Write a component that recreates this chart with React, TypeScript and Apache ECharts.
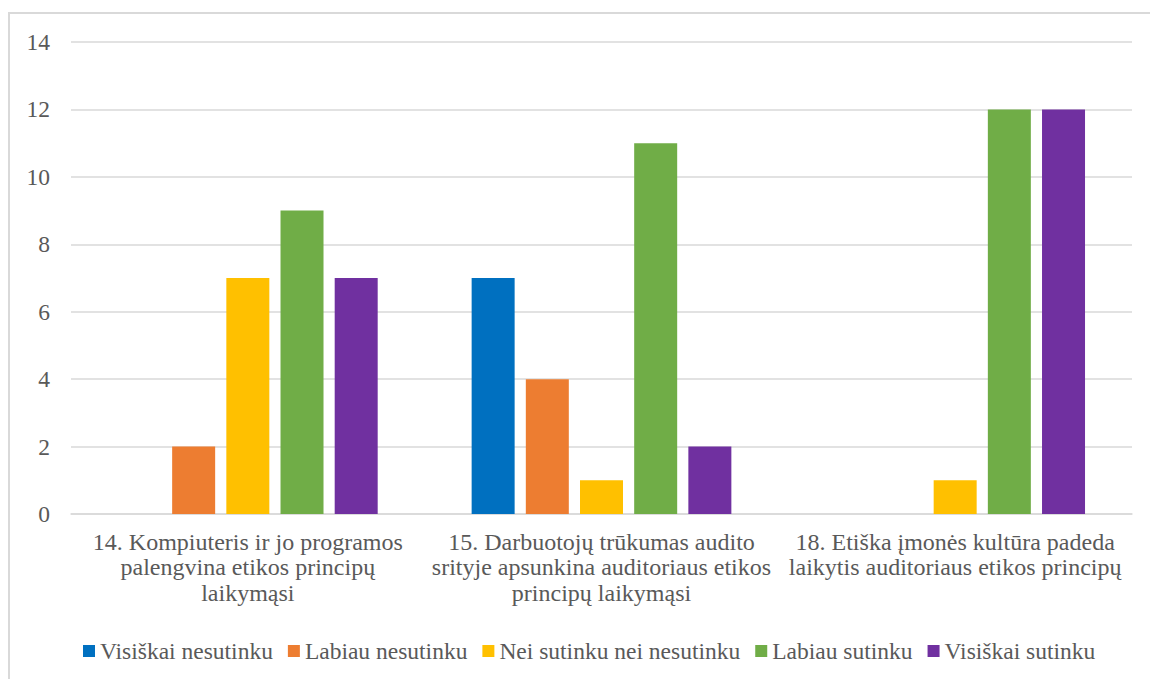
import React, { useEffect, useRef } from "react";
import * as echarts from "echarts";

const categories = [
  "14. Kompiuteris ir jo programos\npalengvina etikos principų\nlaikymąsi",
  "15. Darbuotojų trūkumas audito\nsrityje apsunkina auditoriaus etikos\nprincipų laikymąsi",
  "18. Etiška įmonės kultūra padeda\nlaikytis auditoriaus etikos principų",
];

const seriesNames = [
  "Visiškai nesutinku",
  "Labiau nesutinku",
  "Nei sutinku nei nesutinku",
  "Labiau sutinku",
  "Visiškai sutinku",
];

const visiskaiNesutinku = [0, 7, 0];
const labiauNesutinku = [2, 4, 0];
const neiSutinkuNeiNesutinku = [7, 1, 1];
const labiauSutinku = [9, 11, 12];
const visiskaiSutinku = [7, 2, 12];

const seriesValues = [
  visiskaiNesutinku,
  labiauNesutinku,
  neiSutinkuNeiNesutinku,
  labiauSutinku,
  visiskaiSutinku,
];

const colors = ["#0070C0", "#ED7D31", "#FFC000", "#70AD47", "#7030A0"];

const FONT = "Times New Roman, Liberation Serif, serif";
const TEXT = "#595959";
const GRID = "#d9d9d9";

export default function App() {
  const ref = useRef<HTMLDivElement>(null);
  useEffect(() => {
    if (!ref.current) return;
    const chart = echarts.init(ref.current, null, { renderer: "svg" });
    chart.setOption({
      animation: false,
      backgroundColor: "#ffffff",
      textStyle: { fontFamily: FONT, color: TEXT },
      graphic: [
        {
          type: "rect",
          shape: { x: 9, y: 13, width: 1200, height: 720 },
          style: { fill: "none", stroke: GRID, lineWidth: 2 },
          silent: true,
        },
      ],
      grid: { left: 71, right: 18, top: 42, bottom: 165, containLabel: false },
      legend: {
        left: 78,
        top: 634,
        itemWidth: 12,
        itemHeight: 12,
        itemGap: 15,
        icon: "rect",
        textStyle: { fontFamily: FONT, fontSize: 23.5, lineHeight: 24, color: TEXT },
        data: seriesNames,
      },
      xAxis: {
        type: "category",
        data: categories,
        axisLine: { show: true, lineStyle: { color: GRID, width: 1.5 } },
        axisTick: { show: false },
        axisLabel: {
          interval: 0,
          margin: 15,
          fontFamily: FONT,
          fontSize: 24,
          lineHeight: 25.5,
          color: TEXT,
          align: "center",
        },
      },
      yAxis: {
        type: "value",
        min: 0,
        max: 14,
        interval: 2,
        axisLine: { show: false },
        axisTick: { show: false },
        splitLine: { lineStyle: { color: GRID, width: 1.5 } },
        axisLabel: {
          margin: 21,
          fontFamily: FONT,
          fontSize: 23.5,
          color: TEXT,
        },
      },
      series: seriesNames.map((name, i) => ({
        name,
        type: "bar",
        data: seriesValues[i],
        barWidth: 43,
        barGap: "26%",
        itemStyle: { color: colors[i] },
      })),
    });
    return () => chart.dispose();
  }, []);
  return (
    <div
      ref={ref}
      style={{ position: "fixed", left: 0, top: 0, width: 1150, height: 679 }}
    />
  );
}
